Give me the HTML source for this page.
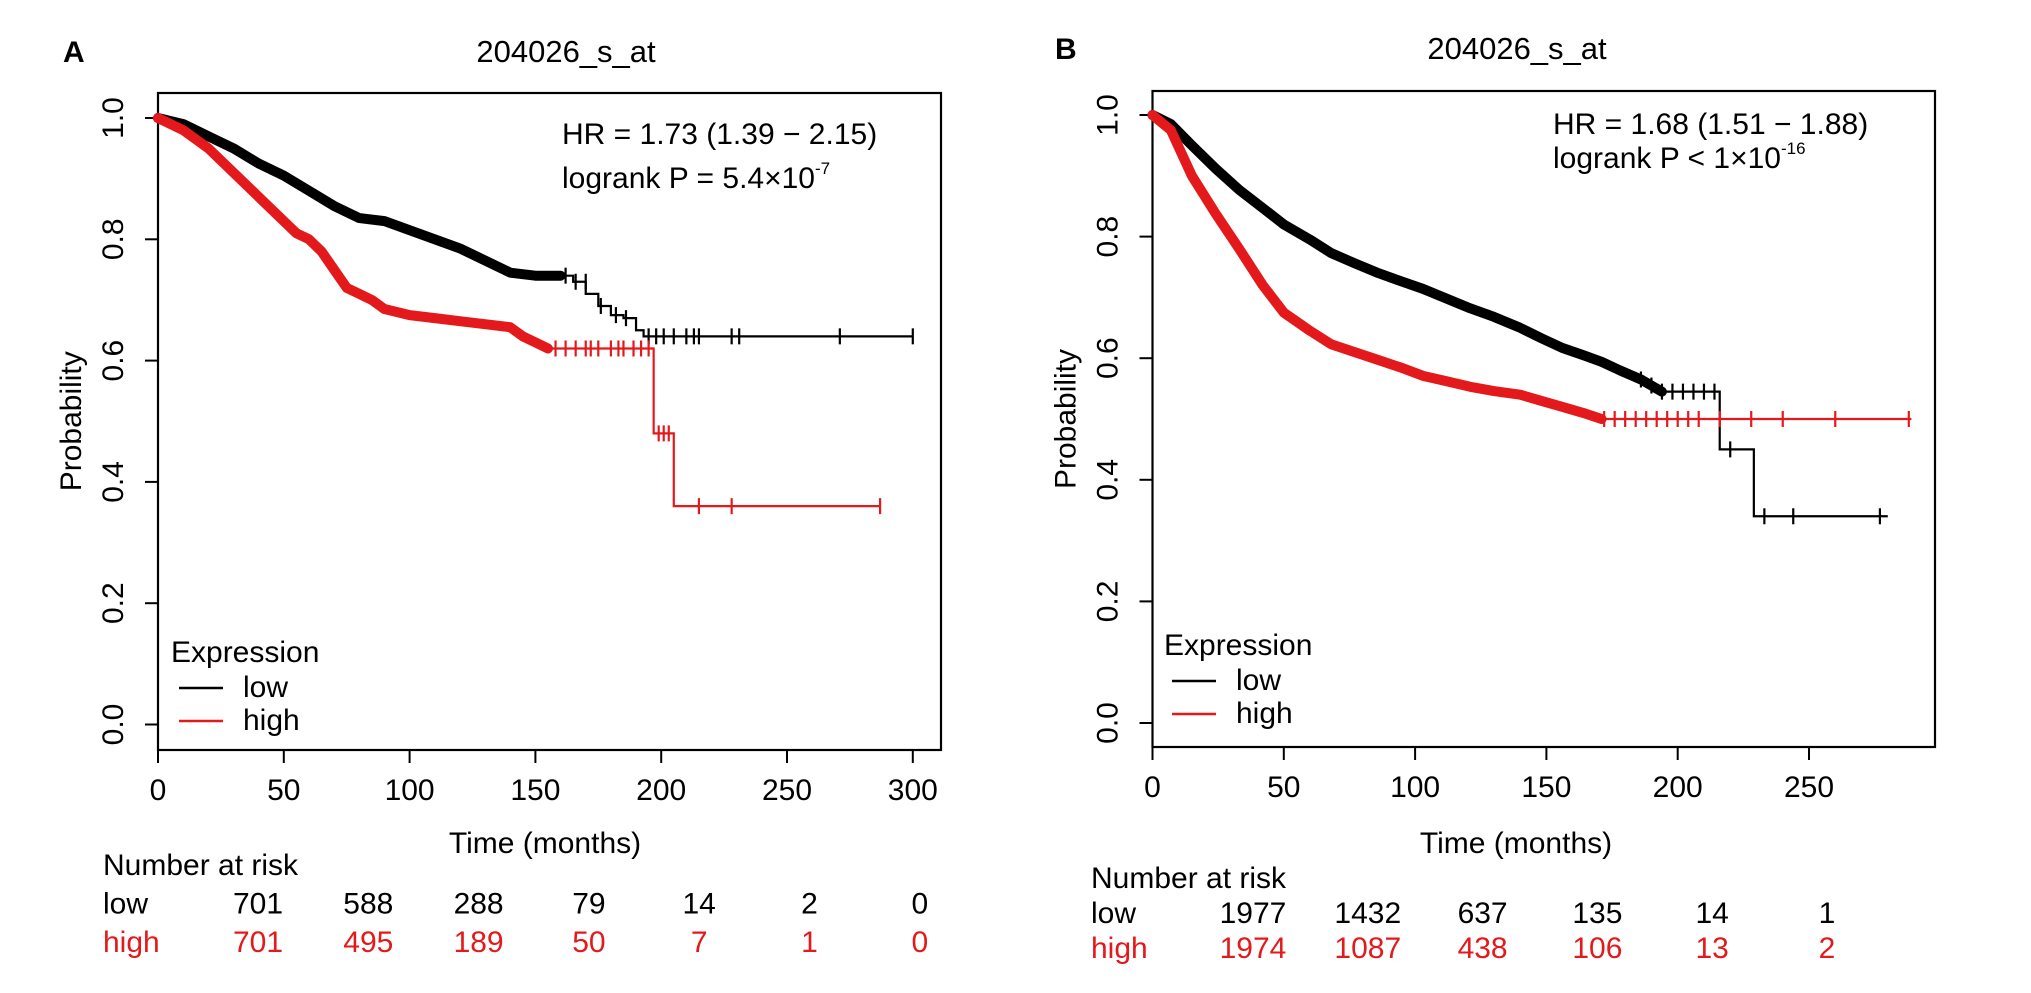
<!DOCTYPE html>
<html><head><meta charset="utf-8"><style>
html,body{margin:0;padding:0;background:#fff;}
svg{display:block;font-family:"Liberation Sans",Arial,sans-serif;}
</style></head><body>
<svg id="fig" width="2031" height="993" viewBox="0 0 2031 993" xmlns="http://www.w3.org/2000/svg">
<g id="panelA"></g>
<g id="panelB"></g>
</svg>
<script>
// ---- Panel A data ----
const aLowT = [0,10,20,30,40,50,60,70,80,90,100,110,120,130,140,150,160,165,170,175,180,185,190,193,300];
const aLowS = [1.0,0.99,0.97,0.95,0.925,0.905,0.88,0.855,0.835,0.83,0.815,0.80,0.785,0.765,0.745,0.74,0.74,0.73,0.71,0.69,0.675,0.67,0.65,0.64,0.64];
const aHighT = [0,10,20,30,40,50,55,60,65,70,75,80,85,90,100,110,120,130,140,145,150,155,197,205,287];
const aHighS = [1.0,0.98,0.95,0.91,0.87,0.83,0.81,0.80,0.78,0.75,0.72,0.71,0.70,0.685,0.675,0.67,0.665,0.66,0.655,0.64,0.63,0.62,0.48,0.36,0.36];
const aLowCens = [162,166,170,176,182,186,195,198,201,205,210,213,215,228,231,271,300];
const aHighCens = [158,162,166,170,172,175,180,183,185,189,192,195,199,201,203,215,228,287];
const aTicksX = [0,50,100,150,200,250,300];
const aRiskLow = ["701","588","288","79","14","2","0"];
const aRiskHigh = ["701","495","189","50","7","1","0"];
// ---- Panel B data ----
const bLowT = [0,7,15,24,33,42,50,60,68,77,86,95,103,112,121,130,140,148,156,164,171,178,186,194,216,229,280];
const bLowS = [1.0,0.985,0.95,0.912,0.877,0.847,0.82,0.795,0.773,0.756,0.74,0.726,0.714,0.698,0.682,0.668,0.65,0.633,0.617,0.605,0.594,0.58,0.565,0.545,0.45,0.34,0.34];
const bHighT = [0,7,15,24,33,42,50,60,68,77,86,95,103,112,121,130,140,148,156,164,171,289];
const bHighS = [1.0,0.975,0.9,0.838,0.78,0.72,0.675,0.645,0.623,0.61,0.597,0.584,0.571,0.562,0.553,0.546,0.54,0.53,0.52,0.51,0.50,0.50];
const bLowCens = [186,190,194,198,202,206,210,214,220,233,244,277];
const bHighCens = [172,176,180,184,188,192,196,200,204,208,216,228,240,260,288];
const bTicksX = [0,50,100,150,200,250];
const bRiskLow = ["1977","1432","637","135","14","1"];
const bRiskHigh = ["1974","1087","438","106","13","2"];
const yTicks = [0.0,0.2,0.4,0.6,0.8,1.0];

const NS = "http://www.w3.org/2000/svg";
function mk(parent, tag, attrs, text){
  const e = document.createElementNS(NS, tag);
  for (const k in attrs) e.setAttribute(k, attrs[k]);
  if (text !== undefined) e.textContent = text;
  parent.appendChild(e);
  return e;
}
function survAt(T,S,t){
  // linear inside dense part is approximated by step lookup with interpolation between knots
  for(let i=1;i<T.length;i++){
    if(t<T[i]){
      return S[i-1];
    }
  }
  return S[S.length-1];
}
function survLin(T,S,t,dense){
  for(let i=1;i<T.length;i++){
    if(t<=T[i]){
      if(T[i]<=dense){ const f=(t-T[i-1])/(T[i]-T[i-1]); return S[i-1]+f*(S[i]-S[i-1]); }
      return S[i-1];
    }
  }
  return S[S.length-1];
}
// smooth (linear) through dense region, steps afterwards
function curvePath(T,S,xf,yf,dense,tmax){
  let d = "M"+xf(T[0])+","+yf(S[0]);
  for(let i=1;i<T.length;i++){
    if(T[i]<=dense){
      d += " L"+xf(Math.min(T[i],tmax))+","+yf(S[i]);
      if(T[i]>=tmax) break;
    } else {
      const t = Math.min(T[i],tmax);
      d += " H"+xf(t);
      if (T[i]>tmax) break;
      d += " V"+yf(S[i]);
    }
  }
  return d;
}

function panel(g, cfg){
  const xf = t => cfg.x0 + t*cfg.kx;
  const yf = s => cfg.y0 - s*cfg.ky;
  const letter = mk(g,"text",{x:cfg.letterX,y:cfg.titleY,"font-size":30,"font-weight":"bold"},cfg.letter);
  
  
  const title = mk(g,"text",{x:cfg.titleX,y:cfg.titleY,"font-size":31,"text-anchor":"middle"},"204026_s_at");
  
  
  const box = mk(g,"rect",{x:cfg.x0,y:cfg.top,width:cfg.right-cfg.x0,height:cfg.bottom-cfg.top,fill:"none",stroke:"#000","stroke-width":2.2});
  
  
  yTicks.forEach(v=>{
    const tk = mk(g,"line",{x1:cfg.x0-13,x2:cfg.x0,y1:yf(v),y2:yf(v),stroke:"#000","stroke-width":2});
    
    
    const lb = mk(g,"text",{x:cfg.x0-35,y:yf(v),"font-size":30,"text-anchor":"middle",transform:"rotate(-90 "+(cfg.x0-35)+" "+yf(v)+")"},v.toFixed(1));
    
    
  });
  const yt = mk(g,"text",{x:cfg.x0-77,y:(yf(0)+yf(1))/2,"font-size":30,"text-anchor":"middle",transform:"rotate(-90 "+(cfg.x0-77)+" "+((yf(0)+yf(1))/2)+")"},"Probability");
  
  
  cfg.ticksX.forEach(v=>{
    const tk = mk(g,"line",{x1:xf(v),x2:xf(v),y1:cfg.bottom,y2:cfg.bottom+13,stroke:"#000","stroke-width":2});
    
    
    const lb = mk(g,"text",{x:xf(v),y:cfg.bottom+50,"font-size":30,"text-anchor":"middle"},String(v));
    
    
  });
  const xt = mk(g,"text",{x:cfg.timeX,y:853,"font-size":30,"text-anchor":"middle"},"Time (months)");
  
  
  [[cfg.lowT,cfg.lowS,cfg.lowCens,"#000",cfg.lowDense,"low"],[cfg.highT,cfg.highS,cfg.highCens,"#e3191c",cfg.highDense,"high"]].forEach(c=>{
    const [T,S,C,col,dense,nm]=c;
    const band = mk(g,"path",{d:curvePath(T,S,xf,yf,dense,dense),fill:"none",stroke:col,"stroke-width":10,"stroke-linejoin":"round","stroke-linecap":"round"});
    
    
    const p = mk(g,"path",{d:curvePath(T,S,xf,yf,dense,1e9),fill:"none",stroke:col,"stroke-width":2.2});
    
    
    C.forEach(t=>{
      const y = yf(survLin(T,S,t,dense));
      const m = mk(g,"line",{x1:xf(t),x2:xf(t),y1:y-8,y2:y+8,stroke:col,"stroke-width":2.2});
      
      
    });
  });
  const hr = mk(g,"text",{x:cfg.hrX,y:cfg.hrY,"font-size":30},cfg.hrText);
  
  
  const lr = mk(g,"text",{x:cfg.hrX,y:cfg.lrY,"font-size":30},cfg.lrText);
  
  
  const sup = mk(lr,"tspan",{"font-size":17,dy:-14},cfg.lrSup);
  
  
  const lg = mk(g,"text",{x:cfg.legX,y:cfg.legY,"font-size":30},"Expression");
  
  
  [["low","#000",0],["high","#e3191c",1]].forEach(e=>{
    const ly = cfg.legY+26+e[2]*33;
    const ln = mk(g,"line",{x1:cfg.legX+8,x2:cfg.legX+52,y1:ly,y2:ly,stroke:e[1],"stroke-width":2.5});
    
    
    const lt = mk(g,"text",{x:cfg.legX+72,y:ly+9,"font-size":30},e[0]);
    
    
  });
  const nr = mk(g,"text",{x:cfg.riskX,y:cfg.riskY,"font-size":30},"Number at risk");
  
  
  [["low","#000",cfg.riskLow,0],["high","#e3191c",cfg.riskHigh,1]].forEach(r=>{
    const y = cfg.riskY+cfg.riskDy*(r[3]+1);
    const rl = mk(g,"text",{x:cfg.riskX,y:y,"font-size":30,fill:r[1]},r[0]);
    
    
    r[2].forEach((v,i)=>{
      const tv = mk(g,"text",{x:cfg.riskCol0+i*cfg.riskColDx,y:y,"font-size":30,fill:r[1],"text-anchor":"middle"},v);
      
      
    });
  });
}

panel(document.getElementById("panelA"),{
  letter:"A",letterX:63,titleX:566,titleY:62,
  x0:158,kx:2.516,y0:724.5,ky:606.5,top:93,bottom:750,right:941,
  ticksX:aTicksX,timeX:545,
  lowT:aLowT,lowS:aLowS,lowCens:aLowCens,lowDense:160,
  highT:aHighT,highS:aHighS,highCens:aHighCens,highDense:155,
  hrX:562,hrY:144,lrY:188,hrText:"HR = 1.73 (1.39 \u2212 2.15)",lrText:"logrank P = 5.4\u00d710",lrSup:"-7",
  legX:171,legY:662,
  riskX:103,riskY:875,riskDy:38.5,riskCol0:258,riskColDx:110.3,riskLow:aRiskLow,riskHigh:aRiskHigh
});
panel(document.getElementById("panelB"),{
  letter:"B",letterX:1055,titleX:1517,titleY:59,
  x0:1152.5,kx:2.626,y0:723,ky:608,top:91,bottom:747,right:1935,
  ticksX:bTicksX,timeX:1516,
  lowT:bLowT,lowS:bLowS,lowCens:bLowCens,lowDense:194,
  highT:bHighT,highS:bHighS,highCens:bHighCens,highDense:171,
  hrX:1553,hrY:134,lrY:168,hrText:"HR = 1.68 (1.51 \u2212 1.88)",lrText:"logrank P < 1\u00d710",lrSup:"-16",
  legX:1164,legY:655,
  riskX:1091,riskY:888,riskDy:35,riskCol0:1253,riskColDx:114.8,riskLow:bRiskLow,riskHigh:bRiskHigh
});
</script>
</body></html>
